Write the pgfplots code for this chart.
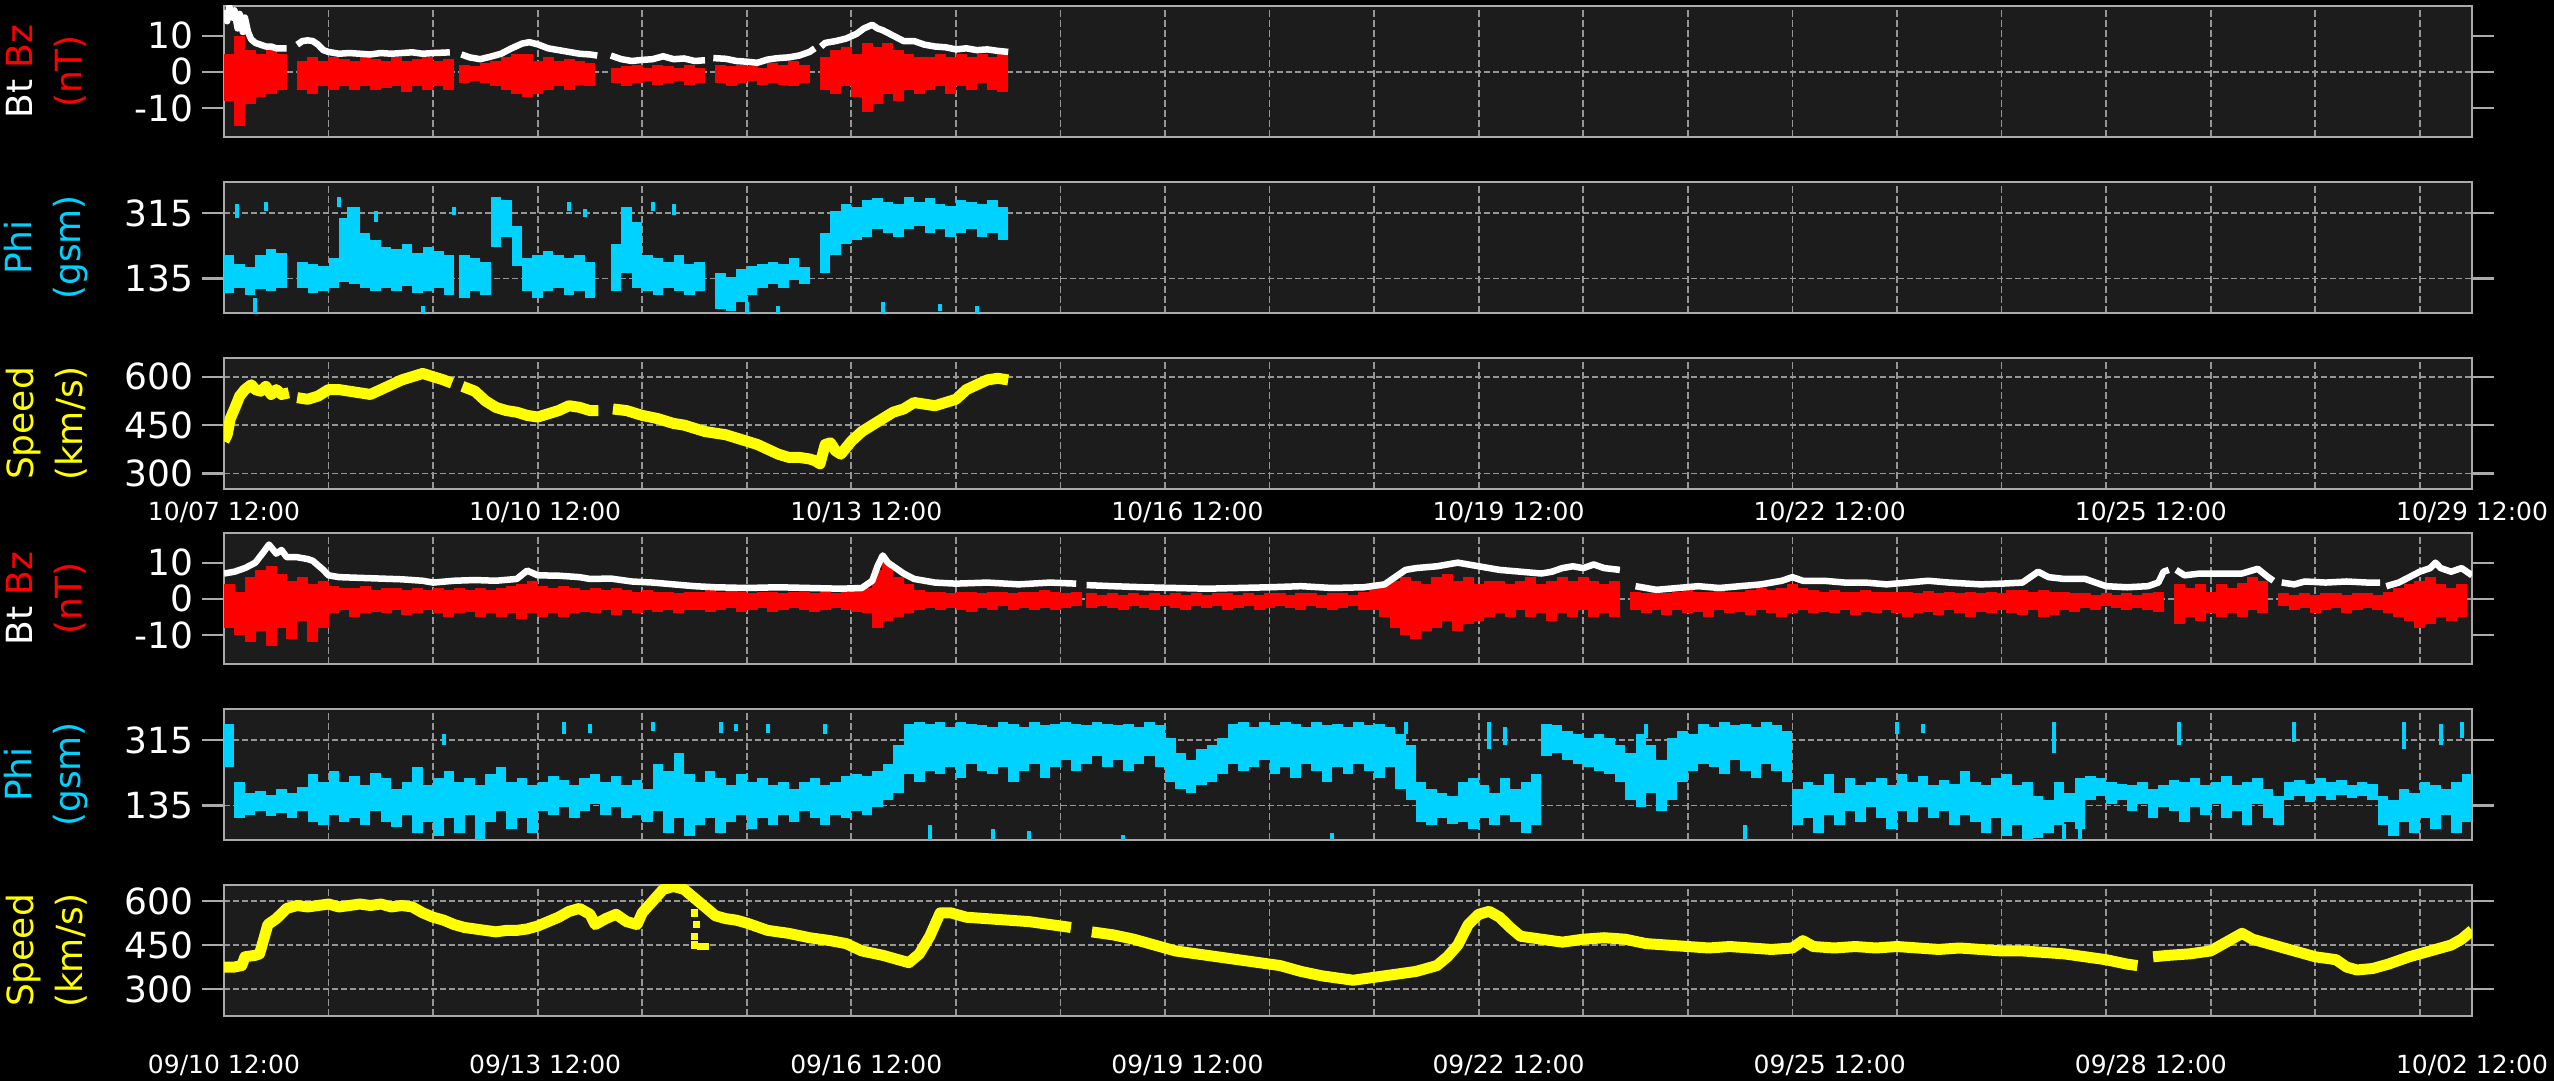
\documentclass[border=0pt]{standalone}
\usepackage{fontspec}
\setmainfont{DejaVu Sans}
\usepackage{pgfplots}
\usepackage{pgfplotstable}
\pgfplotsset{compat=1.18}
\definecolor{plotbg}{RGB}{28,28,28}
\definecolor{axisgray}{RGB}{170,170,170}
\definecolor{gridgray}{RGB}{150,150,150}
\definecolor{bzred}{RGB}{255,0,0}
\definecolor{phicyan}{RGB}{0,210,255}
\definecolor{spdyellow}{RGB}{255,255,0}

\pgfplotsset{
 panel/.style={
  scale only axis, width=899.2pt, height=52.4pt, anchor=south west,
  xmin=0, xmax=21.5,
  axis background/.style={fill=plotbg},
  axis line style={draw=axisgray, line width=0.9pt},
  tick align=outside, major tick length=8.8pt,
  ytick pos=both, yticklabel pos=left,
  xtick={0,3.0714,6.1429,9.2143,12.2857,15.3571,18.4286,21.5},
  xticklabels={},
  xtick style={draw=none},
  ytick style={draw=axisgray, line width=0.9pt},
  minor xtick={1,2,...,21},
  minor tick length=0pt,
  xminorgrids=true,
  minor grid style={draw=gridgray, line width=0.7pt, dash pattern=on 2.8pt off 1.2pt},
  major grid style={draw=gridgray, line width=0.7pt, dash pattern=on 2.4pt off 1.2pt},
  yticklabel style={font=\fontsize{14.4pt}{17pt}\selectfont, text=white},
  xticklabel style={font=\fontsize{10pt}{12pt}\selectfont, text=white},
  clip mode=individual,
  unbounded coords=jump,
 },
 bpanel/.style={panel, ymin=-18, ymax=18.2, ytick={-10,0,10}, yticklabels={-10,0,10}},
 ppanel/.style={panel, ymin=40, ymax=400, ytick={135,315}, yticklabels={135,315}, ymajorgrids=true},
 spanel/.style={panel, ytick={300,450,600}, yticklabels={300,450,600}, ymajorgrids=true},
 bars/.style 2 args={draw=none, mark=none, error bars/.cd, y dir=both, y explicit, error mark=none, error bar style={draw=#1, line width=#2}},
}
\tikzset{ylab/.style={rotate=90, align=center, font=\fontsize{14.4pt}{19.6pt}\selectfont, inner sep=0pt}}

% ---------- top block (10/07 12:00 ...), x in days ----------
\pgfplotstableread{
x lo hi
0.05 -8 5
0.15 -15 10
0.25 -9 6
0.35 -7 5
0.45 -6 6
0.55 -5 5
0.75 -5 3
0.85 -6 4
0.95 -4 3
1.05 -5 4
1.15 -4 3.5
1.25 -5 3
1.35 -4 4
1.45 -5 3.5
1.55 -4.5 3
1.65 -4 4
1.75 -5.5 3
1.85 -4 3.5
1.95 -5 4
2.05 -4 3
2.15 -5 3.5
2.3 -3 2
2.4 -2.5 1.5
2.5 -3 2.5
2.6 -4 3
2.7 -5 4
2.8 -6 5
2.9 -7 5
3.0 -6 3
3.1 -5 4
3.2 -4 3
3.3 -5 3.5
3.4 -3.5 3
3.5 -4 2.5
3.75 -3 1
3.85 -4 1.5
3.95 -3 2
4.05 -2.5 1
4.15 -3.5 2
4.25 -3 1.5
4.35 -2.5 1
4.45 -3.5 2
4.55 -3 1
4.75 -3 2
4.85 -4 1.5
4.95 -3 2
5.05 -2.5 1.5
5.15 -3.5 1
5.25 -3 2.5
5.35 -3.5 2
5.45 -4 3
5.55 -3 2
5.75 -5 4
5.85 -6 6
5.95 -4 7
6.05 -7 5
6.15 -11 8
6.25 -9 7
6.35 -6 8
6.45 -8 6
6.55 -5 5
6.65 -6 4
6.75 -5 4
6.85 -4 5
6.95 -6 4
7.05 -4 5
7.15 -5 4
7.25 -3 5
7.35 -5 4
7.45 -5.5 5
}\bztop

\pgfplotstableread{
x lo hi
0.05 95 200
0.15 110 175
0.25 90 165
0.35 105 200
0.45 100 215
0.55 110 205
0.75 110 180
0.85 95 175
0.95 100 170
1.05 110 190
1.15 125 300
1.25 120 330
1.35 110 260
1.45 100 240
1.55 110 220
1.65 100 215
1.75 115 230
1.85 95 205
1.95 100 220
2.05 110 210
2.15 90 200
2.3 80 200
2.4 100 190
2.5 90 180
2.6 220 360
2.7 250 350
2.8 170 280
2.9 100 190
3.0 80 200
3.1 100 210
3.2 110 200
3.3 90 190
3.4 100 200
3.5 80 180
3.75 100 230
3.85 150 330
3.95 110 290
4.05 100 200
4.15 90 190
4.25 110 180
4.35 100 200
4.45 90 175
4.55 100 180
4.75 50 150
4.85 45 140
4.95 70 160
5.05 90 170
5.15 110 175
5.25 120 180
5.35 110 175
5.45 130 190
5.55 120 165
5.75 150 260
5.85 200 320
5.95 230 340
6.05 240 330
6.15 250 350
6.25 270 355
6.35 260 345
6.45 250 340
6.55 270 360
6.65 280 345
6.75 260 355
6.85 270 340
6.95 250 335
7.05 260 350
7.15 270 345
7.25 250 340
7.35 260 350
7.45 240 330
}\phitop

\pgfplotstableread{
x lo hi
0.12 300 340
0.4 320 345
1.1 330 360
1.2 300 330
1.45 290 320
2.2 310 330
3.3 320 345
3.45 305 325
4.1 320 345
4.3 310 340
5.0 40 70
5.3 40 60
6.3 40 70
6.85 45 65
7.2 40 60
0.3 40 80
1.9 40 60
}\phitopsp

% ---------- bottom block (09/10 12:00 ...) ----------
\pgfplotstableread{
x lo hi
0.05 -8 4
0.15 -10 2
0.25 -12 6
0.35 -9 8
0.45 -13 9
0.55 -8 7
0.65 -11 5
0.75 -6 6
0.85 -12 4
0.95 -8 5
1.05 -4 3.5
1.15 -3 3
1.25 -5 3
1.35 -4 3.5
1.45 -3.5 2.5
1.55 -4 3
1.65 -3 3
1.75 -4.5 2.5
1.85 -4 3
1.95 -3 2.5
2.05 -4 3
2.15 -5 2.5
2.25 -4 3
2.35 -3.5 2.5
2.45 -5 3
2.55 -4 2.5
2.65 -5 3
2.75 -4 3.5
2.85 -5.5 4
2.95 -4 5
3.05 -5 3.5
3.15 -4 3
3.25 -5 3.5
3.35 -4 3
3.45 -3.5 2.5
3.55 -4 3
3.65 -3 2.5
3.75 -4.5 3
3.85 -3 2.5
3.95 -4 2
4.05 -3 2.5
4.15 -3.5 2
4.25 -3 2
4.35 -4 1.5
4.45 -3 2
4.55 -3 2
4.65 -3.5 2.5
4.75 -3 2
4.85 -2.5 2.5
4.95 -3.5 2
5.05 -3 1.5
5.15 -2.5 2
5.25 -3.5 2
5.35 -3 1.5
5.45 -2.5 2
5.55 -3 2
5.65 -3.5 1.5
5.75 -3 2
5.85 -2.5 1.5
5.95 -3 2
6.05 -3.5 2.5
6.15 -4 3
6.25 -8 8
6.35 -6 10
6.45 -5 6
6.55 -4 4
6.65 -3 2.5
6.75 -2.5 2
6.85 -3 2
6.95 -2.5 1.5
7.05 -3 2
7.15 -3.5 2
7.25 -2.5 1.5
7.35 -3 2
7.45 -2 2
7.55 -3 1.5
7.65 -2.5 2
7.75 -3 2
7.85 -2.5 2.5
7.95 -3 2
8.05 -2.5 1.5
8.15 -2 2
8.3 -2.5 1.5
8.4 -2 1
8.5 -2.5 1.5
8.6 -3 1
8.7 -2 1.5
8.8 -2.5 1
8.9 -3 1.5
9.0 -2 1
9.1 -2.5 1.5
9.2 -3 1
9.3 -2 1.5
9.4 -2.5 1
9.5 -2 1.5
9.6 -3 1.5
9.7 -2.5 1
9.8 -2 1.5
9.9 -3 1
10.0 -2.5 1.5
10.1 -2 1.5
10.2 -2.5 1
10.3 -3 1.5
10.4 -2 1.5
10.5 -2.5 1
10.6 -3 1.5
10.7 -2.5 1.5
10.8 -2 1
10.9 -3 2
11.0 -3 3
11.1 -5 4
11.2 -8 5
11.3 -10 6
11.4 -11 5
11.5 -9 4
11.6 -8 6
11.7 -6 7
11.8 -9 5
11.9 -7 6
12.0 -6 4
12.1 -5 5
12.2 -4 5
12.3 -5 4
12.4 -3 5
12.5 -5 6
12.6 -4 4
12.7 -6 5
12.8 -4 6
12.9 -5 5
13.0 -3 6
13.1 -5 5
13.2 -4 4
13.3 -5 5
13.5 -3 2
13.6 -4 1.5
13.7 -3 2
13.8 -4.5 1.5
13.9 -3 2
14.0 -4 2.5
14.1 -3.5 2
14.2 -5 2
14.3 -3 2.5
14.4 -4 2
14.5 -3.5 2
14.6 -4.5 2.5
14.7 -3 3
14.8 -4 2.5
14.9 -5 3
15.0 -4 4
15.1 -3 3
15.2 -4 2.5
15.3 -3.5 2
15.4 -4 2.5
15.5 -3 2
15.6 -4.5 2
15.7 -3.5 2.5
15.8 -4 2
15.9 -3 2
16.0 -4 2
16.1 -5 2
16.2 -4 1.5
16.3 -3.5 2.3
16.4 -4.5 1.5
16.5 -3 2
16.6 -4 1.5
16.7 -5 2
16.8 -3.5 1.5
16.9 -4 2
17.0 -3 1.5
17.1 -4 2.5
17.2 -4.5 2.5
17.3 -3 2
17.4 -5 2.5
17.5 -4.5 2
17.6 -3 2
17.7 -3.5 1.5
17.8 -2.5 1.5
17.9 -3 1
18.0 -2 1.5
18.1 -2.5 1
18.2 -3 1.5
18.3 -2.5 1
18.4 -3 1.5
18.5 -3.5 2
18.7 -7 4
18.8 -5 3
18.9 -6 4
19.0 -4 2
19.1 -5 4
19.2 -4 3
19.3 -5 4.5
19.4 -3 6
19.5 -4 5
19.7 -2 1.5
19.8 -3 1
19.9 -2.5 1.5
20.0 -4 1
20.1 -3 1.5
20.2 -2.5 1.5
20.3 -4 1
20.4 -3 1.5
20.5 -2.5 1.5
20.6 -3 1
20.7 -4 2
20.8 -5 3
20.9 -6 4
21.0 -8 5
21.1 -7 6
21.2 -5 4
21.3 -6 3
21.4 -5 4
}\bzbot

\pgfplotstableread{
x lo hi
0.05 240 360
0.15 100 200
0.25 110 170
0.35 120 175
0.45 105 165
0.55 115 180
0.65 100 170
0.75 120 185
0.85 90 220
0.95 80 200
1.05 110 230
1.15 90 200
1.25 100 215
1.35 80 190
1.45 120 225
1.55 90 210
1.65 75 180
1.75 110 200
1.85 60 240
1.95 90 190
2.05 50 210
2.15 100 230
2.25 60 200
2.35 110 210
2.45 40 190
2.55 90 220
2.65 120 240
2.75 70 200
2.85 100 210
2.95 60 190
3.05 120 200
3.15 110 215
3.25 130 205
3.35 100 190
3.45 120 210
3.55 140 220
3.65 110 200
3.75 130 215
3.85 100 190
3.95 110 205
4.05 90 180
4.15 120 250
4.25 60 230
4.35 100 280
4.45 50 220
4.55 80 200
4.65 100 230
4.75 60 210
4.85 90 190
4.95 110 220
5.05 70 200
5.15 100 210
5.25 80 190
5.35 110 200
5.45 90 180
5.55 120 200
5.65 100 210
5.75 80 190
5.85 110 200
5.95 100 215
6.05 120 220
6.15 110 215
6.25 130 230
6.35 150 250
6.45 170 300
6.55 220 360
6.65 200 365
6.75 230 360
6.85 220 365
6.95 240 350
7.05 210 365
7.15 250 360
7.25 230 355
7.35 220 350
7.45 240 365
7.55 200 360
7.65 230 350
7.75 250 365
7.85 210 355
7.95 240 360
8.05 260 365
8.15 230 360
8.25 250 355
8.35 270 365
8.45 240 360
8.55 260 355
8.65 230 360
8.75 250 350
8.85 270 365
8.95 240 355
9.05 200 320
9.15 180 280
9.25 170 260
9.35 190 290
9.45 200 300
9.55 220 320
9.65 250 360
9.75 230 365
9.85 240 350
9.95 260 365
10.05 220 355
10.15 240 365
10.25 210 360
10.35 250 350
10.45 230 365
10.55 200 355
10.65 240 360
10.75 220 350
10.85 250 365
10.95 230 355
11.05 210 360
11.15 240 350
11.25 180 330
11.35 150 300
11.45 90 200
11.55 80 180
11.65 100 170
11.75 85 160
11.85 90 200
11.95 70 210
12.05 100 190
12.15 80 170
12.25 110 210
12.35 90 180
12.45 60 200
12.55 80 220
12.65 270 360
12.75 280 355
12.85 260 340
12.95 250 330
13.05 240 320
13.15 230 330
13.25 220 320
13.35 200 300
13.45 150 280
13.55 130 330
13.65 170 300
13.75 120 260
13.85 150 320
13.95 200 340
14.05 230 330
14.15 250 360
14.25 240 350
14.35 220 365
14.45 260 355
14.55 230 360
14.65 210 350
14.75 250 365
14.85 230 355
14.95 200 340
15.05 80 180
15.15 100 200
15.25 60 190
15.35 110 220
15.45 80 170
15.55 120 210
15.65 90 190
15.75 130 200
15.85 100 210
15.95 70 190
16.05 120 220
16.15 90 200
16.25 130 215
16.35 100 190
16.45 120 205
16.55 80 195
16.65 110 230
16.75 90 200
16.85 60 190
16.95 100 210
17.05 50 220
17.15 80 190
17.25 40 200
17.35 45 160
17.45 60 150
17.55 80 200
17.65 90 170
17.75 70 210
17.85 150 215
17.95 160 210
18.05 140 200
18.15 150 195
18.25 120 190
18.35 140 200
18.45 100 180
18.55 130 190
18.65 120 205
18.75 90 200
18.85 130 210
18.95 110 190
19.05 140 200
19.15 100 215
19.25 120 190
19.35 80 200
19.45 140 210
19.55 100 180
19.65 80 160
19.75 150 200
19.85 160 205
19.95 145 195
20.05 160 210
20.15 150 200
20.25 165 205
20.35 155 190
20.45 160 200
20.55 150 195
20.65 80 160
20.75 50 150
20.85 90 180
20.95 60 170
21.05 100 200
21.15 70 190
21.25 110 180
21.35 60 200
21.45 90 220
}\phibot

\pgfplotstableread{
x lo hi
3.25 330 365
3.5 335 360
4.1 340 365
4.75 335 365
4.9 340 360
5.2 335 360
5.75 330 360
11.3 330 365
12.1 290 365
12.25 300 350
13.6 320 360
16.0 330 365
16.25 335 360
17.5 280 365
18.7 300 365
19.8 310 365
20.85 290 365
21.2 300 360
21.4 320 365
6.75 40 80
7.35 40 70
7.7 40 65
8.6 40 55
10.6 40 60
14.55 40 80
17.6 40 85
17.75 40 70
2.1 300 330
}\phibotsp

\begin{document}
\begin{tikzpicture}
\useasboundingbox (0,0) rectangle (1021.6pt,432.4pt);
\fill[black] (0,0) rectangle (1021.6pt,432.4pt);

% ===== Panel 1: Bt / Bz (top block) =====
\begin{axis}[bpanel, at={(89.6pt,377.6pt)}]
\addplot[draw=gridgray, line width=0.7pt, dash pattern=on 2.4pt off 1.2pt] coordinates {(0,0) (21.5,0)};
\addplot[bars={bzred}{4.4pt}] table[x=x, y expr={(\thisrow{lo}+\thisrow{hi})/2}, y error expr={(\thisrow{hi}-\thisrow{lo})/2}] {\bztop};
\addplot[white, line width=2.6pt, line join=round] coordinates {
(0,17) (0.03,14) (0.05,18) (0.08,15) (0.1,17) (0.13,12) (0.15,16) (0.18,11) (0.2,15) (0.23,11) (0.26,9) (0.3,8) (0.35,7.5) (0.4,7) (0.45,7) (0.5,6.5) (0.55,6.5) (0.6,6.5)
(0.65,nan)
(0.7,7.5) (0.75,8.5) (0.8,8.7) (0.85,8.5) (0.9,7.5) (0.95,6) (1.0,5.5) (1.1,5) (1.2,5.2) (1.3,5) (1.4,4.8) (1.5,5.2) (1.6,5) (1.7,5.2) (1.8,5.4) (1.9,5.0) (2.0,5.2) (2.1,5.3) (2.16,5.4)
(2.2,nan)
(2.27,4.8) (2.35,4.0) (2.45,3.5) (2.55,4.2) (2.65,5) (2.75,6.5) (2.85,7.8) (2.92,8.2) (3.0,7.6) (3.1,6.5) (3.2,6) (3.3,5.5) (3.4,5) (3.5,4.8) (3.57,4.5)
(3.62,nan)
(3.7,4.5) (3.8,3.5) (3.9,3.0) (4.0,3.3) (4.1,3.5) (4.2,4.3) (4.3,3.5) (4.4,3.7) (4.5,3.0) (4.6,3.2)
(4.64,nan)
(4.68,3.8) (4.8,3.6) (4.9,3.0) (5.0,2.8) (5.1,2.5) (5.2,3.4) (5.3,3.8) (5.4,4.0) (5.5,4.5) (5.6,5.5) (5.65,6.5)
(5.68,nan)
(5.71,7) (5.75,8) (5.85,8.5) (5.95,9.2) (6.05,10.5) (6.12,12) (6.2,13) (6.25,12) (6.3,11.5) (6.4,10) (6.5,8.5) (6.6,8.5) (6.7,7.5) (6.8,7) (6.9,6.8) (7.0,6.2) (7.1,6.5) (7.2,6) (7.3,6.2) (7.4,5.8) (7.5,5.5)
};
\node[ylab] at ([xshift=-71pt]rel axis cs:0,0.5) {\textcolor{white}{Bt} \textcolor{bzred}{Bz}\\\textcolor{bzred}{(nT)}};
\end{axis}

% ===== Panel 2: Phi (top block) =====
\begin{axis}[ppanel, at={(89.6pt,307.2pt)}]
\addplot[bars={phicyan}{4.2pt}] table[x=x, y expr={(\thisrow{lo}+\thisrow{hi})/2}, y error expr={(\thisrow{hi}-\thisrow{lo})/2}] {\phitop};
\addplot[bars={phicyan}{1.6pt}] table[x=x, y expr={(\thisrow{lo}+\thisrow{hi})/2}, y error expr={(\thisrow{hi}-\thisrow{lo})/2}] {\phitopsp};
\node[ylab] at ([xshift=-71pt]rel axis cs:0,0.5) {\textcolor{phicyan}{Phi}\\\textcolor{phicyan}{(gsm)}};
\end{axis}

% ===== Panel 3: Speed (top block) =====
\begin{axis}[spanel, at={(89.6pt,236.8pt)}, ymin=252, ymax=658,
  xticklabels={10/07 12:00,10/10 12:00,10/13 12:00,10/16 12:00,10/19 12:00,10/22 12:00,10/25 12:00,10/29 12:00},
  xticklabel style={anchor=center, yshift=-0.4pt}]
\addplot[spdyellow, line width=4.4pt, line join=round] coordinates {
(0,400) (0.03,420) (0.06,470) (0.1,500) (0.15,540) (0.2,560) (0.26,575) (0.3,560) (0.35,555) (0.4,570) (0.45,545) (0.5,560) (0.55,545) (0.62,550)
(0.66,nan)
(0.7,535) (0.8,530) (0.9,540) (1.0,560) (1.1,560) (1.2,555) (1.3,550) (1.4,545) (1.5,560) (1.6,575) (1.7,590) (1.8,600) (1.9,610) (2.0,600) (2.1,590) (2.18,580)
(2.23,nan)
(2.28,570) (2.4,555) (2.5,525) (2.6,505) (2.7,495) (2.8,490) (2.9,480) (3.0,475) (3.1,485) (3.2,495) (3.3,510) (3.4,505) (3.5,495) (3.58,495)
(3.65,nan)
(3.72,500) (3.85,495) (4.0,480) (4.15,470) (4.3,455) (4.4,450) (4.5,440) (4.6,430) (4.7,425) (4.8,420) (4.9,410) (5.0,400) (5.1,390) (5.2,375) (5.3,360) (5.4,350) (5.5,350) (5.6,345) (5.65,340) (5.7,330) (5.75,390) (5.8,395) (5.85,370) (5.9,360) (6.0,400) (6.1,430) (6.2,450) (6.3,470) (6.4,490) (6.5,500) (6.6,520) (6.7,515) (6.8,510) (6.9,520) (7.0,530) (7.1,560) (7.2,575) (7.3,590) (7.4,595) (7.5,590)
};
\node[ylab] at ([xshift=-71pt]rel axis cs:0,0.5) {\textcolor{spdyellow}{Speed}\\\textcolor{spdyellow}{(km/s)}};
\end{axis}

% ===== Panel 4: Bt / Bz (bottom block) =====
\begin{axis}[bpanel, at={(89.6pt,166.8pt)}]
\addplot[draw=gridgray, line width=0.7pt, dash pattern=on 2.4pt off 1.2pt] coordinates {(0,0) (21.5,0)};
\addplot[bars={bzred}{4.4pt}] table[x=x, y expr={(\thisrow{lo}+\thisrow{hi})/2}, y error expr={(\thisrow{hi}-\thisrow{lo})/2}] {\bzbot};
\addplot[white, line width=2.6pt, line join=round] coordinates {
(0,7) (0.1,7.5) (0.2,8.5) (0.3,10) (0.38,13) (0.43,15) (0.5,12.5) (0.55,13.5) (0.6,11.5) (0.7,11.5) (0.8,11) (0.85,10.5) (0.95,8) (1.0,6.5) (1.1,6) (1.3,5.8) (1.5,5.6) (1.7,5.4) (1.9,5.0) (2.0,4.5) (2.2,5) (2.4,5.2) (2.6,5.0) (2.8,5.5) (2.9,7.8) (3.0,6.5) (3.2,6.4) (3.4,6.0) (3.5,5.5) (3.7,5.6) (3.9,4.8) (4.1,4.5) (4.3,4.0) (4.5,3.5) (4.7,3.2) (5.0,3.0) (5.3,3.2) (5.6,3.0) (5.9,2.8) (6.1,3.0) (6.2,5) (6.25,9) (6.3,12) (6.35,10) (6.4,9) (6.5,7) (6.6,5.5) (6.8,4.5) (7.0,4.2) (7.3,4.5) (7.6,4.0) (7.9,4.5) (8.15,4.2)
(8.2,nan)
(8.25,3.8) (8.5,3.5) (8.8,3.2) (9.1,3.0) (9.4,2.8) (9.7,3.0) (10.0,3.2) (10.3,3.5) (10.6,3.0) (10.9,3.2) (11.1,4) (11.2,6) (11.3,8) (11.4,8.5) (11.6,9.0) (11.8,10) (11.9,9.5) (12.0,9.0) (12.2,8.0) (12.4,7.5) (12.6,7.0) (12.7,7.5) (12.8,8.5) (12.9,9.0) (13.0,8.5) (13.1,9.5) (13.2,8.5) (13.35,8.0)
(13.42,nan)
(13.5,3.5) (13.7,2.5) (13.9,3.0) (14.1,3.5) (14.3,3.0) (14.5,3.5) (14.7,4.0) (14.9,5.0) (15.0,6.0) (15.1,5.0) (15.3,5.0) (15.5,4.5) (15.7,4.5) (15.9,4.0) (16.1,4.5) (16.3,5.0) (16.5,4.5) (16.8,4.0) (17.0,4.2) (17.2,4.5) (17.35,7.5) (17.45,6.0) (17.6,5.5) (17.8,5.5) (17.9,4.5) (18.0,3.5) (18.2,3.2) (18.4,3.5) (18.5,4.5) (18.55,7.5) (18.6,8.0)
(18.63,nan)
(18.67,8.0) (18.75,6.5) (18.9,7.0) (19.1,7.0) (19.3,7.0) (19.45,8.3) (19.55,6.0) (19.6,5.0)
(19.64,nan)
(19.68,4.5) (19.8,4.0) (19.9,4.8) (20.1,4.5) (20.3,4.8) (20.5,4.5) (20.62,4.5)
(20.65,nan)
(20.68,3.5) (20.8,4.5) (20.9,6.0) (21.0,7.5) (21.1,8.5) (21.15,10.0) (21.2,8.5) (21.3,7.5) (21.4,8.5) (21.5,6.5)
};
\node[ylab] at ([xshift=-71pt]rel axis cs:0,0.5) {\textcolor{white}{Bt} \textcolor{bzred}{Bz}\\\textcolor{bzred}{(nT)}};
\end{axis}

% ===== Panel 5: Phi (bottom block) =====
\begin{axis}[ppanel, at={(89.6pt,96.4pt)}]
\addplot[bars={phicyan}{4.2pt}] table[x=x, y expr={(\thisrow{lo}+\thisrow{hi})/2}, y error expr={(\thisrow{hi}-\thisrow{lo})/2}] {\phibot};
\addplot[bars={phicyan}{1.6pt}] table[x=x, y expr={(\thisrow{lo}+\thisrow{hi})/2}, y error expr={(\thisrow{hi}-\thisrow{lo})/2}] {\phibotsp};
\node[ylab] at ([xshift=-71pt]rel axis cs:0,0.5) {\textcolor{phicyan}{Phi}\\\textcolor{phicyan}{(gsm)}};
\end{axis}

% ===== Panel 6: Speed (bottom block) =====
\begin{axis}[spanel, at={(89.6pt,26.0pt)}, ymin=208, ymax=655,
  xticklabels={09/10 12:00,09/13 12:00,09/16 12:00,09/19 12:00,09/22 12:00,09/25 12:00,09/28 12:00,10/02 12:00},
  xticklabel style={anchor=center, yshift=-11pt}]
\addplot[spdyellow, line width=4.4pt, line join=round] coordinates {
(0,375) (0.1,375) (0.17,380) (0.2,410) (0.3,415) (0.34,420) (0.38,470) (0.42,520) (0.5,540) (0.6,575) (0.7,585) (0.8,580) (0.9,585) (1.0,590) (1.1,580) (1.2,585) (1.3,590) (1.4,585) (1.5,590) (1.6,580) (1.7,585) (1.8,580) (1.9,560) (2.0,545) (2.1,535) (2.2,520) (2.3,510) (2.4,505) (2.5,500) (2.6,495) (2.7,500) (2.8,500) (2.9,505) (3.0,515) (3.1,530) (3.2,545) (3.3,565) (3.4,575) (3.5,555) (3.55,520) (3.65,540) (3.75,555) (3.85,530) (3.95,520) (4.0,560) (4.1,600) (4.2,640) (4.3,650) (4.4,640) (4.5,610) (4.6,580) (4.7,550) (4.8,540) (4.9,535) (5.0,525) (5.2,500) (5.4,490) (5.6,475) (5.8,465) (5.95,455) (6.1,430) (6.3,415) (6.45,400) (6.55,390) (6.65,420) (6.75,480) (6.85,560) (6.95,560) (7.1,545) (7.3,540) (7.5,535) (7.7,530) (7.9,520) (8.1,510)
(8.2,nan)
(8.3,495) (8.5,485) (8.7,470) (8.9,450) (9.1,430) (9.3,420) (9.5,410) (9.7,400) (9.9,390) (10.1,380) (10.3,360) (10.5,345) (10.7,335) (10.8,330) (11.0,340) (11.2,350) (11.4,360) (11.6,380) (11.7,410) (11.8,450) (11.9,520) (12.0,555) (12.1,565) (12.2,545) (12.3,510) (12.4,480) (12.6,470) (12.8,460) (13.0,470) (13.2,475) (13.4,470) (13.6,455) (13.8,450) (14.0,445) (14.2,440) (14.4,445) (14.6,440) (14.8,435) (15.0,440) (15.1,465) (15.2,445) (15.4,440) (15.6,445) (15.8,440) (16.0,445) (16.2,440) (16.4,435) (16.6,440) (16.8,435) (17.0,430) (17.2,430) (17.4,425) (17.6,420) (17.8,410) (18.0,400) (18.2,385) (18.3,380)
(18.38,nan)
(18.45,410) (18.6,415) (18.8,420) (19.0,430) (19.2,470) (19.3,490) (19.4,470) (19.6,450) (19.8,430) (20.0,410) (20.2,400) (20.3,375) (20.4,365) (20.55,370) (20.7,385) (20.9,410) (21.1,430) (21.3,450) (21.4,470) (21.5,500)
};
\addplot[only marks, mark=square*, mark size=1.3pt, spdyellow] coordinates {(4.5,450) (4.5,480) (4.52,520) (4.5,560) (4.56,445) (4.6,445)};
\node[ylab] at ([xshift=-71pt]rel axis cs:0,0.5) {\textcolor{spdyellow}{Speed}\\\textcolor{spdyellow}{(km/s)}};
\end{axis}
\end{tikzpicture}
\end{document}
